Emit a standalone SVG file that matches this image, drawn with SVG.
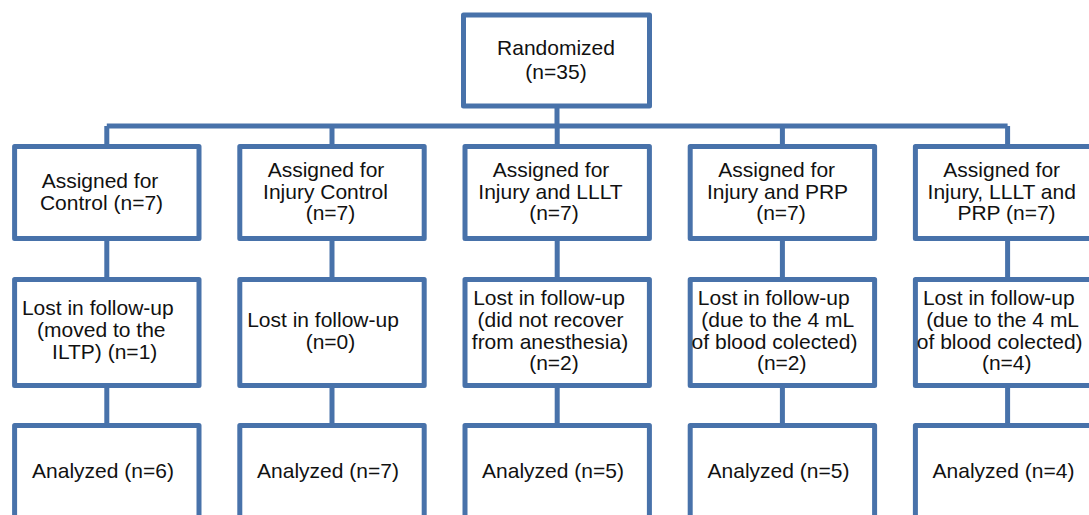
<svg xmlns="http://www.w3.org/2000/svg" width="1089" height="515" viewBox="0 0 1089 515">
<style>
.box{fill:#fff;stroke:#4872AA;stroke-width:5;stroke-linejoin:round}
.ln{fill:none;stroke:#4872AA;stroke-width:5}
text{font-family:"Liberation Sans",Arial,sans-serif;font-size:21px;fill:#111;text-anchor:middle}
</style>
<rect width="1089" height="515" fill="#fff"/>
<g id="connectors">
<path class="ln" d="M557 106V126M106.8 126H1007.6M106.8 126V146.5M332 126V146.5M557.2 126V146.5M782.4 126V146.5M1007.6 126V146.5"/>
<path class="ln" d="M106.8 238.5V279.5M332 238.5V279.5M557.2 238.5V279.5M782.4 238.5V279.5M1007.6 238.5V279.5"/>
<path class="ln" d="M106.8 385.5V425.5M332 385.5V425.5M557.2 385.5V425.5M782.4 385.5V425.5M1007.6 385.5V425.5"/>
</g>
<g id="randomized"><rect class="box" x="463.5" y="15" width="186" height="91"/><text x="556" y="55">Randomized</text><text x="556" y="79">(n=35)</text></g>
<g id="assign1"><rect class="box" x="14.6" y="146.5" width="184.4" height="92"/><text x="100" y="188">Assigned for</text><text x="101.5" y="210">Control (n=7)</text></g>
<g id="assign2"><rect class="box" x="239.8" y="146.5" width="184.4" height="92"/><text x="326" y="177">Assigned for</text><text x="325.5" y="198.5">Injury Control</text><text x="330.5" y="220">(n=7)</text></g>
<g id="assign3"><rect class="box" x="465" y="146.5" width="184.4" height="92"/><text x="551" y="177">Assigned for</text><text x="550.5" y="198.5">Injury and LLLT</text><text x="554" y="220">(n=7)</text></g>
<g id="assign4"><rect class="box" x="690.2" y="146.5" width="184.4" height="92"/><text x="776.7" y="177">Assigned for</text><text x="777.5" y="198.5">Injury and PRP</text><text x="781" y="220">(n=7)</text></g>
<g id="assign5"><rect class="box" x="915.4" y="146.5" width="184.4" height="92"/><text x="1001.7" y="177">Assigned for</text><text x="1001.7" y="198.5">Injury, LLLT and</text><text x="1006.5" y="220">PRP (n=7)</text></g>
<g id="lost1"><rect class="box" x="14.6" y="279.5" width="184.4" height="106"/><text x="97.8" y="315">Lost in follow-up</text><text x="101.3" y="337">(moved to the</text><text x="104.7" y="359">ILTP) (n=1)</text></g>
<g id="lost2"><rect class="box" x="239.8" y="279.5" width="184.4" height="106"/><text x="323" y="327">Lost in follow-up</text><text x="330.5" y="348.5">(n=0)</text></g>
<g id="lost3"><rect class="box" x="465" y="279.5" width="184.4" height="106"/><text x="549" y="305">Lost in follow-up</text><text x="550.5" y="327">(did not recover</text><text x="550" y="349">from anesthesia)</text><text x="554" y="370">(n=2)</text></g>
<g id="lost4"><rect class="box" x="690.2" y="279.5" width="184.4" height="106"/><text x="773.7" y="305">Lost in follow-up</text><text x="777.8" y="327">(due to the 4 mL</text><text x="774.5" y="349">of blood colected)</text><text x="781.7" y="370">(n=2)</text></g>
<g id="lost5"><rect class="box" x="915.4" y="279.5" width="184.4" height="106"/><text x="998.8" y="305">Lost in follow-up</text><text x="1002.6" y="327">(due to the 4 mL</text><text x="999.7" y="349">of blood colected)</text><text x="1006.7" y="370">(n=4)</text></g>
<g id="analyzed1"><rect class="box" x="14.6" y="425.5" width="184.4" height="110"/><text x="103" y="478">Analyzed (n=6)</text></g>
<g id="analyzed2"><rect class="box" x="239.8" y="425.5" width="184.4" height="110"/><text x="328" y="478">Analyzed (n=7)</text></g>
<g id="analyzed3"><rect class="box" x="465" y="425.5" width="184.4" height="110"/><text x="553" y="478">Analyzed (n=5)</text></g>
<g id="analyzed4"><rect class="box" x="690.2" y="425.5" width="184.4" height="110"/><text x="778.5" y="478">Analyzed (n=5)</text></g>
<g id="analyzed5"><rect class="box" x="915.4" y="425.5" width="184.4" height="110"/><text x="1003.5" y="478">Analyzed (n=4)</text></g>
</svg>
